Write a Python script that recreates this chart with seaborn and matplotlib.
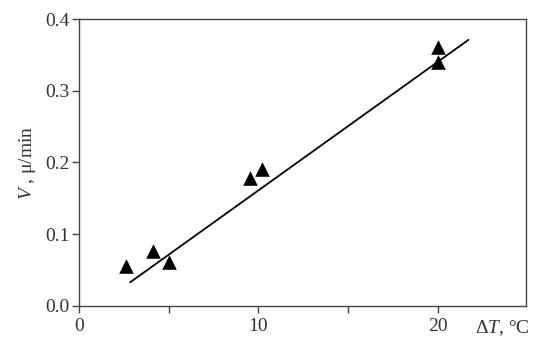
import numpy as np
import pandas as pd
import matplotlib
matplotlib.use("Agg")
import matplotlib.pyplot as plt
import seaborn as sns

# dados
delta_t = [2.6, 4.1, 5.0, 9.55, 10.2, 20.0, 20.0]
velocidade = [0.056, 0.076, 0.062, 0.178, 0.191, 0.361, 0.340]

# reta ajustada (extremos)
reta_x = [2.85, 21.7]
reta_y = [0.033, 0.371]

x_ticks = [0, 5, 10, 15, 20]
x_labels = ["0", "", "10", "", "20"]
y_ticks = [0.0, 0.1, 0.2, 0.3, 0.4]

sns.set_style("ticks")
plt.rcParams["font.family"] = ["Liberation Serif", "DejaVu Serif"]
plt.rcParams["mathtext.fontset"] = "custom"
plt.rcParams["mathtext.it"] = "Liberation Serif:italic"
plt.rcParams["mathtext.rm"] = "Liberation Serif"
cor_texto = "#333333"

dados = pd.DataFrame({"dT": delta_t, "V": velocidade})
linha = pd.DataFrame({"dT": reta_x, "V": reta_y})

fig = plt.figure(figsize=(5.5, 3.43), dpi=100)
ax = fig.add_axes([0.1436, 0.1079, 0.8127, 0.8367])

sns.lineplot(data=linha, x="dT", y="V", color="black", linewidth=1.3, ax=ax)
sns.scatterplot(data=dados, x="dT", y="V", marker="^", s=110, color="black",
                edgecolor="black", linewidth=0, ax=ax, zorder=3)

ax.set_xlim(0, 24.9)
ax.set_ylim(0, 0.4)
ax.set_xticks(x_ticks)
ax.set_xticklabels(x_labels)
ax.set_yticks(y_ticks)
ax.set_yticklabels([f"{v:.1f}" for v in y_ticks])
ax.tick_params(direction="out", length=5, width=1, colors="#444444",
               labelsize=14, labelcolor=cor_texto, pad=2)
ax.tick_params(axis="x", pad=4)
for s in ax.spines.values():
    s.set_visible(True)
    s.set_color("#444444")
    s.set_linewidth(1)

ax.set_xlabel("")
ax.set_ylabel(r"$V$ , μ/min", fontsize=14, color=cor_texto, labelpad=5)
fig.text(0.913, 0.029, r"Δ$T$, °C", fontsize=14, color=cor_texto,
         ha="center", va="baseline")

plt.savefig("out.png", dpi=100)
